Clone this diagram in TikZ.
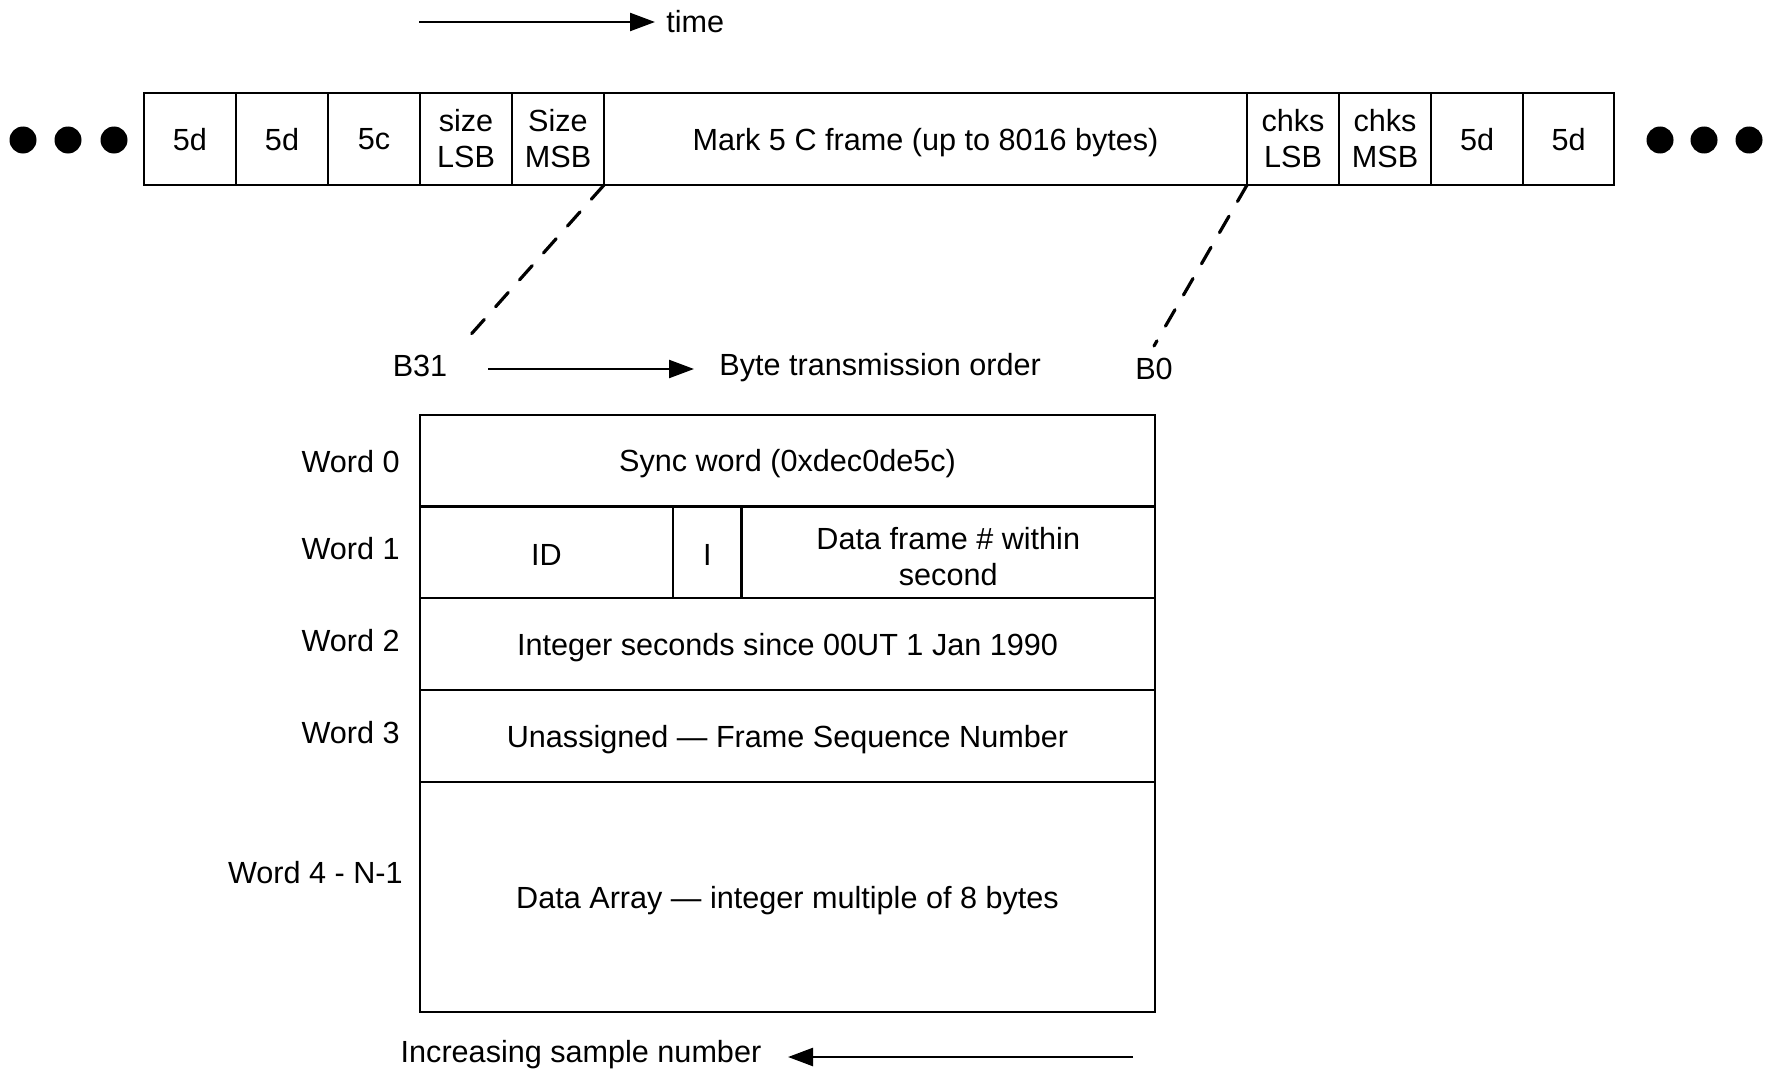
\documentclass[tikz,border=0pt]{standalone}
\usepackage{fontspec}
\setmainfont{Liberation Sans}
\usetikzlibrary{arrows.meta}
\begin{document}
\begin{tikzpicture}[x=0.5pt,y=-0.5pt,
  every node/.style={font=\fontsize{15.3}{18}\selectfont},
  cell/.style={draw,line width=1.35pt,inner sep=0pt,outer sep=0pt,minimum height=46pt,align=center},
  one/.style={text depth=0pt},
  row/.style={cell,one,minimum width=367.5pt},
  lbl/.style={inner sep=0pt,anchor=east},
  txt/.style={inner sep=0pt},
  dot/.style={circle,fill,inner sep=0pt,minimum size=13.5pt},
  arr/.style={line width=1.2pt,-{Triangle[length=12.5pt,width=9pt]}},
  dashline/.style={line width=1.6pt,line cap=round,dash pattern=on 9.5pt off 8.5pt}
]
\useasboundingbox (0,0) rectangle (1776,1070);

% time arrow
\coordinate (t0) at (419,22);
\coordinate (t1) at (655,22);
\draw[arr] (t0) -- (t1);
\node[txt,anchor=west] (time) at (666,22) {time};

% dots
\node[dot] (dl1) at (23,140) {};
\node[dot] (dl2) at (68,140) {};
\node[dot] (dl3) at (114,140) {};
\node[dot] (dr1) at (1660,140) {};
\node[dot] (dr2) at (1704,140) {};
\node[dot] (dr3) at (1749,140) {};

% top row
\node[cell,one,minimum width=46pt] (c1) at (190,139) {5d};
\node[cell,one,minimum width=46pt] (c2) at (282,139) {5d};
\node[cell,one,minimum width=46pt] (c3) at (374,139) {5c};
\node[cell,minimum width=46pt] (c4) at (466,139) {size\\LSB};
\node[cell,minimum width=46pt] (c5) at (558,139) {Size\\MSB};
\node[cell,one,minimum width=321.5pt] (main) at (925.5,139) {Mark 5 C frame (up to 8016 bytes)};
\node[cell,minimum width=46pt] (c6) at (1293,139) {chks\\LSB};
\node[cell,minimum width=46pt] (c7) at (1385,139) {chks\\MSB};
\node[cell,one,minimum width=46pt] (c8) at (1477,139) {5d};
\node[cell,one,minimum width=45.5pt] (c9) at (1568.5,139) {5d};

% dashed lines
\coordinate (d1) at (466,340);
\coordinate (d2) at (1154,346);
\draw[dashline] (c5.south east) -- (d1);
\draw[dashline] (main.south east) -- (d2);

% byte order
\node[txt] (b31) at (420,366) {B31};
\node[txt] (b0) at (1154,369) {B0};
\coordinate (o0) at (488,369);
\coordinate (o1) at (694,369);
\draw[arr] (o0) -- (o1);
\node[txt,anchor=west] (order) at (719,368) {Byte transmission order};

% lower table
\node[row,minimum height=45.75pt] (w0) at (787.5,460.75) {Sync word (0xdec0de5c)};
\node[cell,text height=13pt,text depth=0pt,minimum width=126.5pt,minimum height=45.75pt] (id) at (546.5,552.25) {ID};
\node[cell,text height=13pt,text depth=0pt,minimum width=34.25pt,minimum height=45.75pt] (ibit) at (707.25,552.25) {I};
\node[cell,text height=33.5pt,minimum width=206.75pt,minimum height=45.75pt] (dfn) at (948.25,552.25) {Data frame \# within\\second};
\node[row,minimum height=46pt] (w2) at (787.5,644) {Integer seconds since 00UT 1 Jan 1990};
\node[row,minimum height=46pt] (w3) at (787.5,736) {Unassigned — Frame Sequence Number};
\node[row,minimum height=115pt] (w4) at (787.5,897) {Data Array — integer multiple of 8 bytes};

% word labels
\node[lbl] (l0) at (400,462) {Word 0};
\node[lbl] (l1) at (400,549) {Word 1};
\node[lbl] (l2) at (400,641) {Word 2};
\node[lbl] (l3) at (400,733) {Word 3};
\node[lbl] (l4) at (403,873) {Word 4 - N-1};

% bottom
\node[txt] (inc) at (581,1055) {Increasing sample number};
\coordinate (s0) at (1133,1057);
\coordinate (s1) at (788,1057);
\draw[arr] (s0) -- (s1);
\end{tikzpicture}
\end{document}
